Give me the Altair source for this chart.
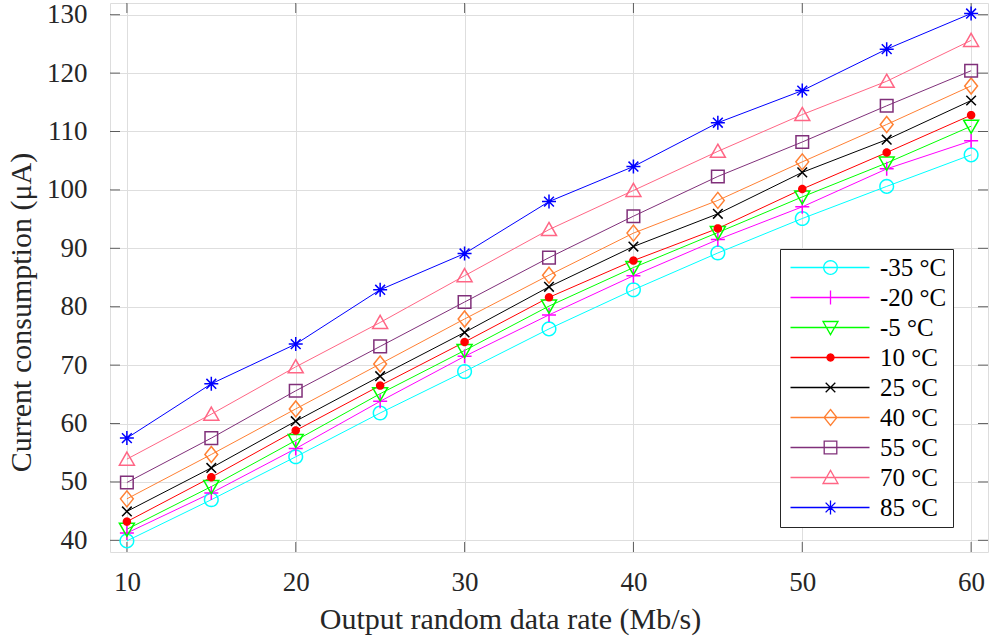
import math
import altair as alt
import pandas as pd

# ---------------- data ----------------
rates = [10, 15, 20, 25, 30, 35, 40, 45, 50, 55, 60]
series = ["-35 °C", "-20 °C", "-5 °C", "10 °C", "25 °C", "40 °C", "55 °C", "70 °C", "85 °C"]
i_m35 = [39.9, 46.95, 54.3, 61.8, 68.9, 76.2, 82.9, 89.2, 95.1, 100.6, 106.0]
i_m20 = [41.25, 48.1, 55.7, 63.8, 71.5, 78.6, 85.3, 91.5, 97.1, 103.6, 108.4]
i_m5 = [41.9, 49.2, 57.1, 65.1, 72.5, 80.1, 86.7, 92.7, 98.8, 104.6, 110.9]
i_10 = [43.2, 50.8, 58.8, 66.5, 73.95, 81.6, 87.9, 93.4, 100.15, 106.4, 112.8]
i_25 = [44.95, 52.4, 60.4, 68.1, 75.6, 83.4, 90.3, 95.9, 103.0, 108.6, 115.3]
i_40 = [47.1, 54.7, 62.5, 70.2, 77.9, 85.4, 92.6, 98.2, 104.8, 111.2, 117.8]
i_55 = [49.9, 57.5, 65.6, 73.2, 80.8, 88.4, 95.5, 102.3, 108.2, 114.4, 120.4]
i_70 = [53.9, 61.6, 69.7, 77.3, 85.3, 93.2, 99.9, 106.6, 112.9, 118.6, 125.6]
i_85 = [57.5, 66.8, 73.6, 82.9, 89.1, 98.0, 104.0, 111.5, 117.0, 124.1, 130.2]
values = [i_m35, i_m20, i_m5, i_10, i_25, i_40, i_55, i_70, i_85]

x_ticks = [10, 20, 30, 40, 50, 60]
y_ticks = [40, 50, 60, 70, 80, 90, 100, 110, 120, 130]
x_domain = [9, 61]
y_domain = [38, 132]

rows = []
for name, vals in zip(series, values):
    for r, v in zip(rates, vals):
        rows.append({"rate": r, "current": v, "series": name})
df = pd.DataFrame(rows)
df_xt = pd.DataFrame({"rate": x_ticks})
df_yt = pd.DataFrame({"current": y_ticks})

# ---------------- styles ----------------
colors = ["#00FFFF", "#FF00FF", "#00FF00", "#FF0000", "#000000",
          "#FF8033", "#80307A", "#FF6685", "#0000FF"]
fills = ["transparent", "transparent", "transparent", "#FF0000", "transparent",
         "transparent", "transparent", "transparent", "transparent"]

circle_pts = [(math.cos(2 * math.pi * k / 28), math.sin(2 * math.pi * k / 28)) for k in range(28)]
marker_polys = [
    [(circle_pts, True)],                                                # circle
    [([(-1, 0), (1, 0)], False), ([(0, -1), (0, 1)], False)],            # plus
    [([(-1, -0.8), (1, -0.8), (0, 0.95)], True)],                         # triangle down
    [(circle_pts, True)],                                                # dot
    [([(-1, -1), (1, 1)], False), ([(-1, 1), (1, -1)], False)],          # x
    [([(0, -1), (0.8, 0), (0, 1), (-0.8, 0)], True)],                    # diamond
    [([(-1, -1), (1, -1), (1, 1), (-1, 1)], True)],                      # square
    [([(0, -0.95), (1, 0.8), (-1, 0.8)], True)],                         # triangle up
    [([(-1, 0), (1, 0)], False), ([(0, -1), (0, 1)], False),
     ([(-0.7, -0.7), (0.7, 0.7)], False), ([(-0.7, 0.7), (0.7, -0.7)], False)],  # asterisk
]
half_px = [6.8, 7.0, 7.5, 3.5, 4.8, 8.0, 6.3, 7.5, 7.0]


def path_from(polys, scale=1.0, dx=0.0):
    parts = []
    for pts, closed in polys:
        seg = "M" + "L".join(f"{x * scale + dx:.3f},{y * scale:.3f}" for x, y in pts)
        if closed:
            seg += "Z"
        parts.append(seg)
    return "".join(parts)


UNIT = 10.0  # symbol size 400 -> 10 px per path unit
MX = 3.2
plot_shapes = [path_from(p, scale=h / UNIT) for p, h in zip(marker_polys, half_px)]
legend_shapes = ["M-0.8,0L7.1,0" + path_from(p, scale=h / UNIT, dx=MX)
                 for p, h in zip(marker_polys, half_px)]

FONT = "Liberation Serif"
INK = "#262626"
W, H = 878, 549
TICK = 10

xscale = alt.Scale(domain=x_domain, nice=False, zero=False)
yscale = alt.Scale(domain=y_domain, nice=False, zero=False)

x_axis = alt.Axis(
    orient="bottom", values=x_ticks, title="Output random data rate (Mb/s)",
    grid=True, gridColor="#dedede", gridWidth=1, ticks=False, tickSize=0, domain=False,
    labelFont=FONT, labelFontSize=27, labelColor=INK, labelPadding=38,
    labelBaseline="alphabetic",
    titleFont=FONT, titleFontSize=30, titleFontWeight="normal", titleColor=INK,
    titleX=400, titleY=76, titleAlign="center", titleBaseline="alphabetic")
y_axis = alt.Axis(
    orient="left", values=y_ticks, title="Current consumption (μA)",
    grid=True, gridColor="#dedede", gridWidth=1, ticks=False, tickSize=0, domain=False,
    labelFont=FONT, labelFontSize=27, labelColor=INK, labelPadding=23,
    titleFont=FONT, titleFontSize=30, titleFontWeight="normal", titleColor=INK,
    titleX=-80, titleY=309, titleAngle=270, titleAlign="center",
    titleBaseline="alphabetic")

base = alt.Chart(df)

lines = base.mark_line(strokeWidth=1).encode(
    x=alt.X("rate:Q", scale=xscale, axis=x_axis),
    y=alt.Y("current:Q", scale=yscale, axis=y_axis),
    color=alt.Color("series:N", scale=alt.Scale(domain=series, range=colors), legend=None),
)

points = base.mark_point(strokeWidth=1.5, opacity=1, size=UNIT * UNIT * 4).encode(
    x=alt.X("rate:Q", scale=xscale, axis=x_axis),
    y=alt.Y("current:Q", scale=yscale, axis=y_axis),
    color=alt.Color("series:N", scale=alt.Scale(domain=series, range=colors), legend=None),
    fill=alt.Fill("series:N", scale=alt.Scale(domain=series, range=fills), legend=None),
    shape=alt.Shape("series:N", scale=alt.Scale(domain=series, range=plot_shapes), legend=None),
)

leg = alt.Legend(orient="none", legendX=670, legendY=246, title=None,
                 fillColor="white", strokeColor=INK, padding=6, rowPadding=4,
                 symbolSize=UNIT * UNIT * 4, symbolStrokeWidth=1.3, labelOffset=69,
                 labelFont=FONT, labelFontSize=25, labelColor="black",
                 labelExpr="datum.label + '    '")

legend_layer = base.transform_filter("false").mark_point(strokeWidth=1.3, opacity=1).encode(
    x=alt.X("rate:Q", scale=xscale, axis=x_axis),
    y=alt.Y("current:Q", scale=yscale, axis=y_axis),
    stroke=alt.Stroke("series:N", scale=alt.Scale(domain=series, range=colors), legend=leg),
    fill=alt.Fill("series:N", scale=alt.Scale(domain=series, range=fills), legend=leg),
    shape=alt.Shape("series:N", scale=alt.Scale(domain=series, range=legend_shapes), legend=leg),
)

# inward tick marks on all four sides of the box
tick_left = alt.Chart(df_yt).mark_tick(orient="horizontal", size=TICK, thickness=1,
                                       color=INK, xOffset=TICK / 2).encode(
    x=alt.X(datum=x_domain[0], scale=xscale, axis=x_axis),
    y=alt.Y("current:Q", scale=yscale, axis=y_axis))
tick_right = alt.Chart(df_yt).mark_tick(orient="horizontal", size=TICK, thickness=1,
                                        color=INK, xOffset=-TICK / 2).encode(
    x=alt.X(datum=x_domain[1], scale=xscale, axis=x_axis),
    y=alt.Y("current:Q", scale=yscale, axis=y_axis))
tick_bottom = alt.Chart(df_xt).mark_tick(orient="vertical", size=TICK, thickness=1,
                                         color=INK, yOffset=-TICK / 2).encode(
    x=alt.X("rate:Q", scale=xscale, axis=x_axis),
    y=alt.Y(datum=y_domain[0], scale=yscale, axis=y_axis))
tick_top = alt.Chart(df_xt).mark_tick(orient="vertical", size=TICK, thickness=1,
                                      color=INK, yOffset=TICK / 2).encode(
    x=alt.X("rate:Q", scale=xscale, axis=x_axis),
    y=alt.Y(datum=y_domain[1], scale=yscale, axis=y_axis))

chart = alt.layer(lines, tick_left, tick_right, tick_bottom, tick_top,
                  points, legend_layer).resolve_scale(
    shape="independent", fill="independent", stroke="independent"
).properties(
    width=W, height=H,
    padding={"left": 110, "top": 3, "right": 2, "bottom": 87},
    autosize=alt.AutoSizeParams(type="none"),
).configure_view(stroke=INK, strokeWidth=1).configure(font=FONT, background="white")

chart.save("out.html", embed_options={"renderer": "svg", "actions": False})
